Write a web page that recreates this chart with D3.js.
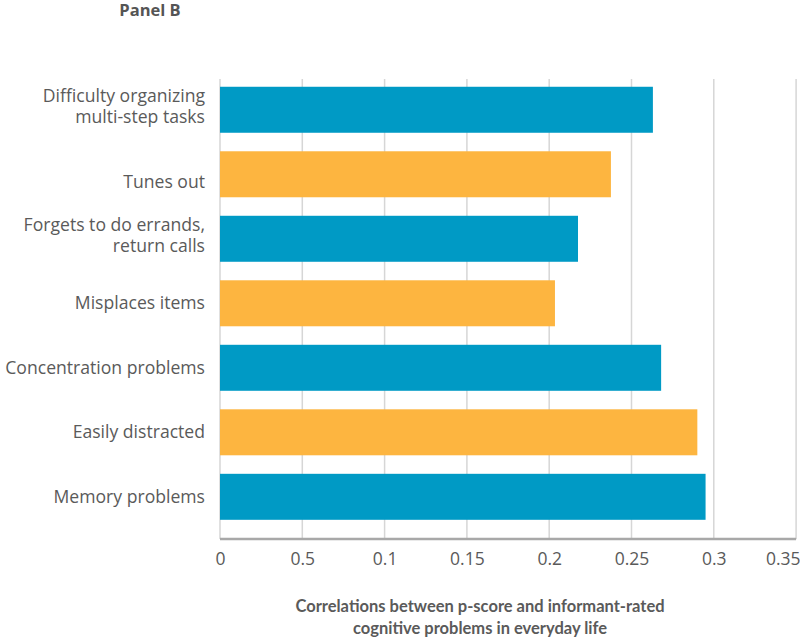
<!DOCTYPE html>
<html>
<head>
<meta charset="utf-8">
<script src="https://cdn.jsdelivr.net/npm/d3@7"></script>
<style>
  body { margin: 0; background: #fff; }
  text { font-family: "Open Sans", "Noto Sans", sans-serif; }
</style>
</head>
<body>
<div id="chart"></div>
<script>
// categories, top to bottom (the source keeps an empty first line on "Tunes out")
var categories = [
  ["Difficulty organizing", "multi-step tasks"],
  ["", "Tunes out"],
  ["Forgets to do errands,", "return calls"],
  ["Misplaces items"],
  ["Concentration problems"],
  ["Easily distracted"],
  ["Memory problems"]
];
var values = [0.263, 0.2375, 0.2175, 0.2035, 0.268, 0.290, 0.295];
var groups = ["blue", "orange", "blue", "orange", "blue", "orange", "blue"];
var tickValues = [0, 0.05, 0.1, 0.15, 0.2, 0.25, 0.3, 0.35];
var tickLabels = ["0", "0.5", "0.1", "0.15", "0.2", "0.25", "0.3", "0.35"];

var width = 800, height = 639;
var margin = {top: 75, right: 3, bottom: 100, left: 220};

var svg = d3.select("#chart").append("svg")
  .attr("width", width)
  .attr("height", height);

var x = d3.scaleLinear()
  .domain([0, 0.35])
  .range([margin.left, margin.left + 0.35 * 1646]);

var y = d3.scaleBand()
  .domain(d3.range(categories.length))
  .range([margin.top, height - margin.bottom])
  .paddingInner(0.287)
  .paddingOuter(0.24)
  .align(0.38);

var color = d3.scaleOrdinal()
  .domain(["blue", "orange"])
  .range(["#009ac5", "#fdb540"]);

// gridlines
svg.append("g")
  .selectAll("line")
  .data(tickValues)
  .enter()
  .append("line")
    .attr("x1", function(d) { return x(d); })
    .attr("x2", function(d) { return x(d); })
    .attr("y1", margin.top + 4)
    .attr("y2", height - margin.bottom)
    .style("stroke", "#d6d6d6")
    .style("stroke-width", 1.5);

// bars
svg.append("g")
  .selectAll("rect")
  .data(values)
  .enter()
  .append("rect")
    .attr("x", x(0))
    .attr("y", function(d, i) { return y(i); })
    .attr("width", function(d) { return x(d) - x(0); })
    .attr("height", y.bandwidth())
    .style("fill", function(d, i) { return color(groups[i]); });

// bottom axis
var xAxis = svg.append("g")
  .attr("transform", "translate(0," + (height - margin.bottom) + ")")
  .call(d3.axisBottom(x).tickValues(tickValues)
    .tickFormat(function(d, i) { return tickLabels[i]; })
    .tickSize(0).tickPadding(14));
xAxis.select(".domain")
  .attr("d", "M" + x(0) + ",0H" + x(0.35))
  .style("stroke", "#a8a8a8")
  .style("stroke-width", 2.5);
xAxis.selectAll("text")
  .style("font-size", "17.5px")
  .style("fill", "#5a5a5a");
// last label pulled in so it stays on the page
xAxis.selectAll(".tick").filter(function(d) { return d === 0.35; })
  .select("text")
  .attr("text-anchor", "end")
  .attr("x", width - x(0.35));

// category labels
svg.append("g")
  .selectAll("text")
  .data(categories)
  .enter()
  .append("text")
    .attr("x", 205)
    .attr("y", function(d, i) { return y(i) + y.bandwidth() / 2; })
    .attr("text-anchor", "end")
    .style("font-size", "17.6px")
    .style("fill", "#5a5a5a")
    .each(function(d) {
      var t = d3.select(this);
      var lh = 21;
      var dy = -(d.length - 1) * lh / 2 + (d.length > 1 ? 3 : 6);
      d.forEach(function(line) {
        if (line !== "") {
          t.append("tspan")
            .attr("x", 205)
            .attr("dy", dy)
            .text(line);
          dy = 0;
        }
        dy += lh;
      });
    });

// panel title
svg.append("text")
  .attr("x", 150)
  .attr("y", 16)
  .attr("text-anchor", "middle")
  .style("font-size", "16.5px")
  .style("font-weight", "bold")
  .style("fill", "#555")
  .text("Panel B");

// axis title
var axisTitle = ["Correlations between p-score and informant-rated", "cognitive problems in everyday life"];
svg.append("g")
  .selectAll("text")
  .data(axisTitle)
  .enter()
  .append("text")
    .attr("x", 480)
    .attr("y", function(d, i) { return 612 + i * 22; })
    .attr("text-anchor", "middle")
    .style("font-family", "Lato, 'Open Sans', sans-serif")
    .style("font-size", "16.5px")
    .style("font-weight", "bold")
    .style("fill", "#5a5a5a")
    .text(function(d) { return d; });
</script>
</body>
</html>
